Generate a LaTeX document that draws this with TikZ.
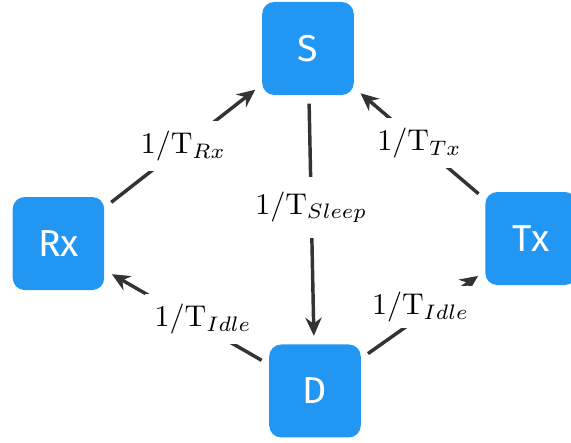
\documentclass[tikz,border=0pt]{standalone}
\usepackage{fontspec}
\newfontfamily\statefont{Fira Sans}
\usetikzlibrary{arrows.meta}
\definecolor{stateblue}{RGB}{33,150,243}
\definecolor{linegray}{RGB}{51,51,51}
\begin{document}
\begin{tikzpicture}[
    statebox/.style={fill=stateblue, rounded corners=4pt, minimum width=30.5pt,
      minimum height=31pt, text=white, font=\statefont\fontsize{12.5}{15}\selectfont},
    rate/.style={fill=white},
    trans/.style={draw=linegray, line width=1.15pt, -{Stealth[length=6pt,width=5.4pt]},
      shorten >=2.7pt, shorten <=2.7pt}]
  \useasboundingbox (0,0) rectangle (6.689,5.178);
  \node[statebox] (S) at (3.608,4.610) {S};
  \node[statebox] (Rx) at (0.685,2.325) {Rx};
  \node[statebox] (Tx) at (6.221,2.384) {Tx};
  \node[statebox] (D) at (3.690,0.598) {D};
  \draw[trans] (Rx) -- node[rate] {1/T$_{Rx}$} (S);
  \draw[trans] (Tx) -- node[rate] {1/T$_{Tx}$} (S);
  \draw[trans] (S) -- node[rate, pos=0.45, inner ysep=5pt] {1/T$_{Sleep}$} (D);
  \draw[trans] (D) -- node[rate, pos=0.4, yshift=2.5pt] {1/T$_{Idle}$} (Rx);
  \draw[trans] (D) -- node[rate, pos=0.48, yshift=3pt, inner sep=2pt] {1/T$_{Idle}$} (Tx);
\end{tikzpicture}
\end{document}
